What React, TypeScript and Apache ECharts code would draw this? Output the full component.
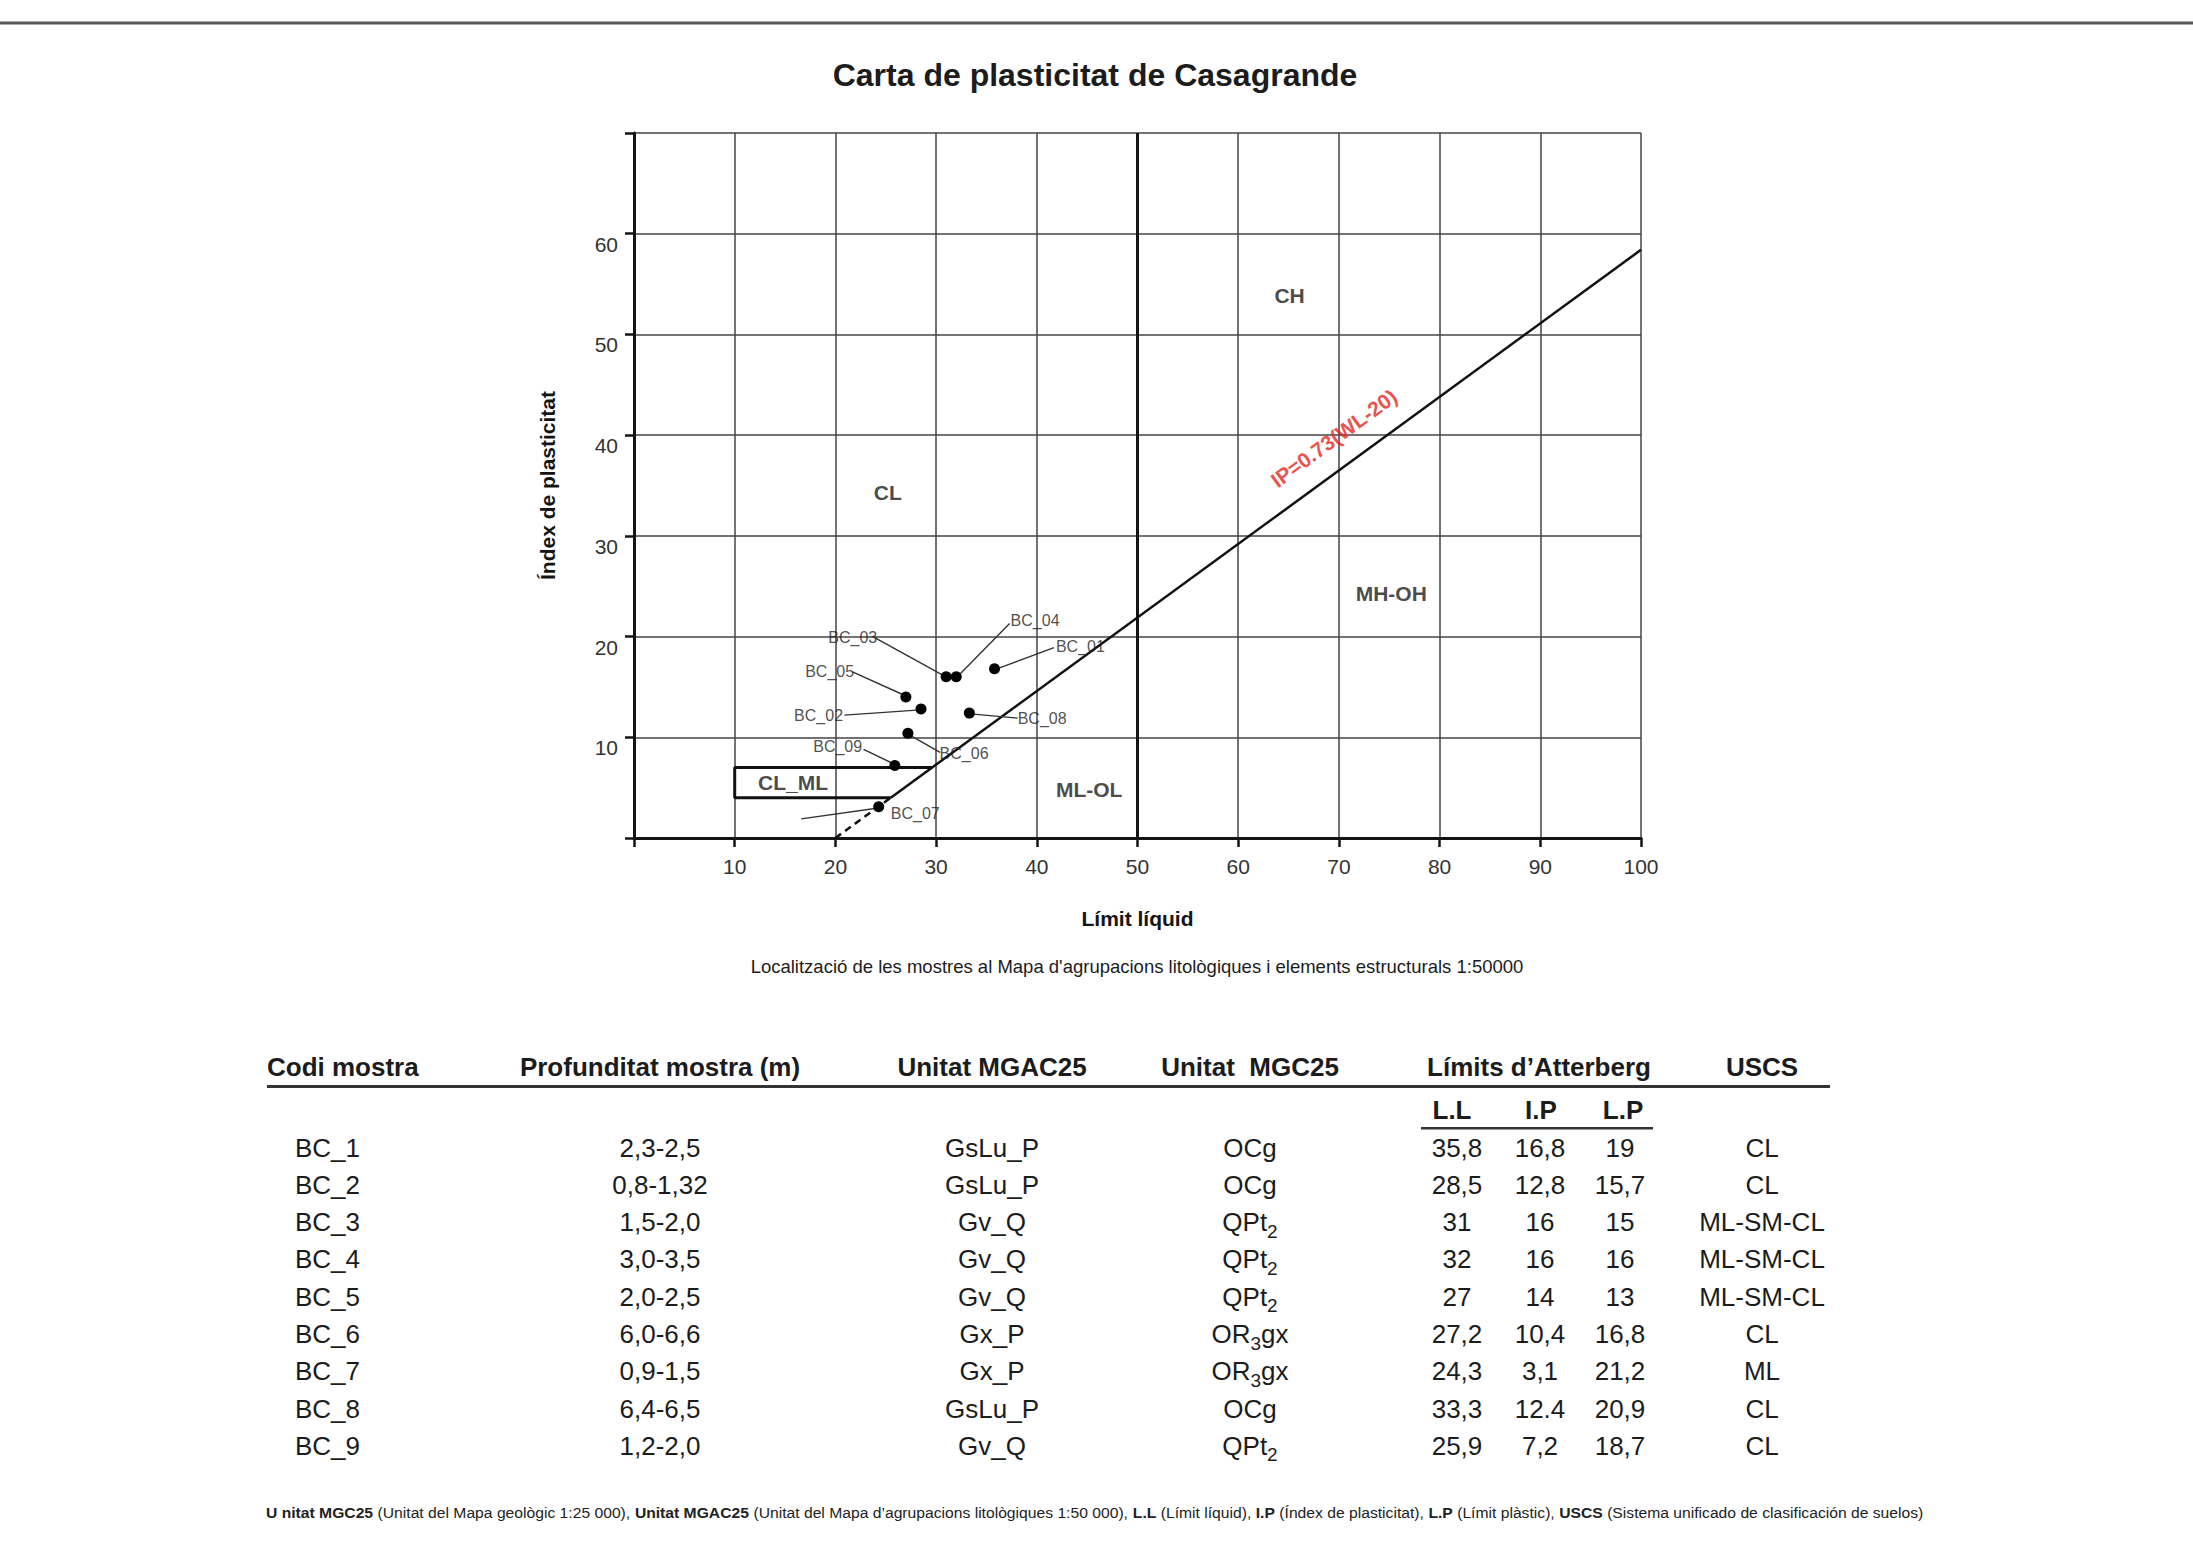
import React, { useEffect, useRef } from 'react';
import * as echarts from 'echarts';

const PAGE_W = 2193;
const PAGE_H = 1546;
const FONT = '"Liberation Sans", Arial, Helvetica, sans-serif';

// ---------- chart data ----------
const pointNames = ['BC_01', 'BC_02', 'BC_03', 'BC_04', 'BC_05', 'BC_06', 'BC_07', 'BC_08', 'BC_09'];
const liquidLimit = [35.8, 28.5, 31, 32, 27, 27.2, 24.3, 33.3, 25.9];
const plasticityIndex = [16.8, 12.8, 16, 16, 14, 10.4, 3.1, 12.4, 7.2];

// A-line IP = 0.73 (WL - 20)
const aLineDashed = [[20, 0], [25.5, 4]];
const aLineSolid = [[25.5, 4], [100, 58.4]];
const limitLine50 = [[50, 0], [50, 70]];
const clmlBox = [[25.5, 4], [10, 4], [10, 7], [29.6, 7]];

const zoneNames = ['CH', 'CL', 'MH-OH', 'ML-OL', 'CL_ML'];
const zoneAnchors = [[65.1, 53.9], [25.2, 34.3], [75.2, 24.3], [45.2, 4.8], [15.8, 5.5]];
const aLineLabel = 'IP=0.73(WL-20)';
const aLineLabelAnchor = [69.5, 39.7];

// label anchors (left edge of text) and leader lines for the samples
const labelAnchors = [[41.9, 19.0], [15.9, 12.2], [19.3, 19.9], [37.4, 21.6], [17.0, 16.5], [30.35, 8.4], [25.5, 2.4], [38.1, 11.9], [17.8, 9.1]];
const leaderLines = [
  [[36.3, 16.9], [41.7, 18.9]],
  [[20.9, 12.2], [28.1, 12.7]],
  [[23.9, 19.9], [30.8, 16.1]],
  [[32.4, 16.3], [37.3, 21.3]],
  [[21.7, 16.5], [26.9, 14.15]],
  [[27.6, 10.1], [30.4, 8.5]],
  [[16.6, 1.9], [24.1, 2.95]],
  [[33.7, 12.3], [38.1, 11.9]],
  [[22.8, 8.8], [25.7, 7.4]],
];

// ---------- table data ----------
const tableHeaders = ['Codi mostra', 'Profunditat mostra (m)', 'Unitat MGAC25', 'Unitat  MGC25', 'Límits d’Atterberg', 'USCS'];
const subHeaders = ['L.L', 'I.P', 'L.P'];
const codes = ['BC_1', 'BC_2', 'BC_3', 'BC_4', 'BC_5', 'BC_6', 'BC_7', 'BC_8', 'BC_9'];
const depths = ['2,3-2,5', '0,8-1,32', '1,5-2,0', '3,0-3,5', '2,0-2,5', '6,0-6,6', '0,9-1,5', '6,4-6,5', '1,2-2,0'];
const unitMGAC = ['GsLu_P', 'GsLu_P', 'Gv_Q', 'Gv_Q', 'Gv_Q', 'Gx_P', 'Gx_P', 'GsLu_P', 'Gv_Q'];
// each unit written as [text, isSubscript] pieces
const unitMGC: [string, boolean][][] = [
  [['OCg', false]],
  [['OCg', false]],
  [['QPt', false], ['2', true]],
  [['QPt', false], ['2', true]],
  [['QPt', false], ['2', true]],
  [['OR', false], ['3', true], ['gx', false]],
  [['OR', false], ['3', true], ['gx', false]],
  [['OCg', false]],
  [['QPt', false], ['2', true]],
];
const llText = ['35,8', '28,5', '31', '32', '27', '27,2', '24,3', '33,3', '25,9'];
const ipText = ['16,8', '12,8', '16', '16', '14', '10,4', '3,1', '12.4', '7,2'];
const lpText = ['19', '15,7', '15', '16', '13', '16,8', '21,2', '20,9', '18,7'];
const uscs = ['CL', 'CL', 'ML-SM-CL', 'ML-SM-CL', 'ML-SM-CL', 'CL', 'ML', 'CL', 'CL'];

const titleText = 'Carta de plasticitat de Casagrande';
const subtitleText = "Localització de les mostres al Mapa d'agrupacions litològiques i elements estructurals 1:50000";
const footerParts: [string, boolean][] = [
  ['U nitat MGC25', true],
  [' (Unitat del Mapa geològic 1:25 000), ', false],
  ['Unitat MGAC25', true],
  [' (Unitat del Mapa d’agrupacions litològiques 1:50 000), ', false],
  ['L.L', true],
  [' (Límit líquid), ', false],
  ['I.P', true],
  [' (Índex de plasticitat), ', false],
  ['L.P', true],
  [' (Límit plàstic), ', false],
  ['USCS', true],
  [' (Sistema unificado de clasificación de suelos)', false],
];

function measure(text: string, font: string): number {
  const c = document.createElement('canvas').getContext('2d');
  if (!c) return text.length * 8;
  c.font = font;
  return c.measureText(text).width;
}

function buildGraphics() {
  const g: any[] = [];
  const ink = '#1c1c1c';
  // top rule
  g.push({ type: 'rect', shape: { x: 0, y: 21.5, width: PAGE_W, height: 3 }, style: { fill: '#555' }, silent: true });
  // title
  g.push({ type: 'text', x: 1095, y: 75, style: { text: titleText, font: `bold 32px ${FONT}`, fill: ink, align: 'center', verticalAlign: 'middle' } });
  // subtitle
  const subFs = 17 * 773 / measure(subtitleText, `17px ${FONT}`);
  g.push({ type: 'text', x: 1137, y: 966, style: { text: subtitleText, font: `${subFs.toFixed(2)}px ${FONT}`, fill: ink, align: 'center', verticalAlign: 'middle' } });

  // table header
  const headerY = 1067;
  const headerX = [267, 660, 992, 1250, 1539, 1762];
  tableHeaders.forEach((h, i) => {
    g.push({ type: 'text', x: headerX[i], y: headerY, style: { text: h, font: `bold 26px ${FONT}`, fill: ink, align: i === 0 ? 'left' : 'center', verticalAlign: 'middle' } });
  });
  g.push({ type: 'rect', shape: { x: 267, y: 1085, width: 1563, height: 3 }, style: { fill: '#333' } });
  const subX = [1452, 1541, 1623];
  subHeaders.forEach((h, i) => {
    g.push({ type: 'text', x: subX[i], y: 1110, style: { text: h, font: `bold 26px ${FONT}`, fill: ink, align: 'center', verticalAlign: 'middle' } });
  });
  g.push({ type: 'rect', shape: { x: 1421, y: 1127, width: 232, height: 2.5 }, style: { fill: '#333' } });

  // table rows
  const rowY0 = 1147.5;
  const rowStep = 37.3;
  const mainFont = `26px ${FONT}`;
  const subFont = `19px ${FONT}`;
  codes.forEach((code, r) => {
    const y = rowY0 + r * rowStep;
    const cells: [string, number, string][] = [
      [code, 295, 'left'],
      [depths[r], 660, 'center'],
      [unitMGAC[r], 992, 'center'],
      [llText[r], 1457, 'center'],
      [ipText[r], 1540, 'center'],
      [lpText[r], 1620, 'center'],
      [uscs[r], 1762, 'center'],
    ];
    cells.forEach(([t, x, a]) => {
      g.push({ type: 'text', x, y, style: { text: t, font: mainFont, fill: ink, align: a, verticalAlign: 'middle' } });
    });
    // unit with subscripts
    const pieces = unitMGC[r];
    const widths = pieces.map(([t, s]) => measure(t, s ? subFont : mainFont));
    const total = widths.reduce((a, b) => a + b, 0);
    let x = 1250 - total / 2;
    pieces.forEach(([t, s], k) => {
      g.push({ type: 'text', x, y: s ? y + 9 : y, style: { text: t, font: s ? subFont : mainFont, fill: ink, align: 'left', verticalAlign: 'middle' } });
      x += widths[k];
    });
  });

  // footer
  const fs = 15;
  let total = 0;
  footerParts.forEach(([t, b]) => { total += measure(t, `${b ? 'bold ' : ''}${fs}px ${FONT}`); });
  const sx = 1657 / total;
  const rich = {
    b: { fontSize: fs, fontWeight: 'bold', fontFamily: FONT, fill: '#222' },
    n: { fontSize: fs, fontWeight: 'normal', fontFamily: FONT, fill: '#222' },
  };
  const ftext = footerParts.map(([t, b]) => `{${b ? 'b' : 'n'}|${t}}`).join('');
  g.push({ type: 'text', x: 266, y: 1513, scaleX: sx, style: { text: ftext, rich, align: 'left', verticalAlign: 'middle' } });
  return g;
}

export default function App() {
  const ref = useRef<HTMLDivElement>(null);
  useEffect(() => {
    document.body.style.margin = '0';
    if (!ref.current) return;
    const chart = echarts.init(ref.current, undefined, { renderer: 'svg' });
    const axisColor = '#141414';
    const gridColor = '#444';
    const option: any = {
      animation: false,
      backgroundColor: '#fff',
      textStyle: { fontFamily: FONT },
      grid: { left: 634, top: 133, width: 1007, height: 705, containLabel: false },
      xAxis: {
        type: 'value', min: 0, max: 100, interval: 10,
        name: 'Límit líquid', nameLocation: 'middle', nameGap: 70,
        nameTextStyle: { fontSize: 21, fontWeight: 'bold', color: axisColor, fontFamily: FONT },
        axisLine: { show: true, onZero: false, lineStyle: { color: axisColor, width: 3 } },
        axisTick: { show: true, length: 9, lineStyle: { color: axisColor, width: 2.5 } },
        axisLabel: { fontSize: 21, color: '#333', margin: 18, fontFamily: FONT, formatter: (v: number) => (v === 0 ? '' : String(v)) },
        splitLine: { show: true, lineStyle: { color: gridColor, width: 1.5 } },
      },
      yAxis: {
        type: 'value', min: 0, max: 70, interval: 10,
        name: 'Índex de plasticitat', nameLocation: 'middle', nameGap: 76, nameRotate: 90,
        nameTextStyle: { fontSize: 21, fontWeight: 'bold', color: axisColor, fontFamily: FONT },
        axisLine: { show: true, onZero: false, lineStyle: { color: axisColor, width: 3 } },
        axisTick: { show: true, length: 9, lineStyle: { color: axisColor, width: 2.5 } },
        axisLabel: { fontSize: 21, color: '#333', margin: 16, verticalAlign: 'top', fontFamily: FONT, formatter: (v: number) => (v === 0 || v === 70 ? '' : String(v)) },
        splitLine: { show: true, lineStyle: { color: gridColor, width: 1.5 } },
      },
      series: [
        { type: 'line', data: limitLine50, symbol: 'none', silent: true, lineStyle: { color: axisColor, width: 3 }, z: 3 },
        { type: 'line', data: aLineSolid, symbol: 'none', silent: true, lineStyle: { color: '#111', width: 2.5 }, z: 3 },
        { type: 'line', data: aLineDashed, symbol: 'none', silent: true, lineStyle: { color: '#111', width: 2.5, type: [7, 5] }, z: 3 },
        { type: 'line', data: clmlBox, symbol: 'none', silent: true, lineStyle: { color: '#111', width: 3 }, z: 3 },
        {
          type: 'lines', coordinateSystem: 'cartesian2d', silent: true, z: 4,
          lineStyle: { color: '#333', width: 1.4, opacity: 1 },
          data: leaderLines.map((c) => ({ coords: c })),
        },
        {
          type: 'scatter', silent: true, z: 5, symbolSize: 11,
          itemStyle: { color: '#000', opacity: 1 },
          data: liquidLimit.map((x, i) => [x, plasticityIndex[i]]),
        },
        {
          type: 'scatter', silent: true, z: 6, symbolSize: 0,
          data: pointNames.map((n, i) => ({ name: n, value: labelAnchors[i] })),
          label: { show: true, formatter: '{b}', position: 'inside', align: 'left', verticalAlign: 'middle', fontSize: 16, color: '#222', fontFamily: FONT },
        },
        {
          type: 'scatter', silent: true, z: 6, symbolSize: 0,
          data: zoneNames.map((n, i) => ({ name: n, value: zoneAnchors[i] })),
          label: { show: true, formatter: '{b}', position: 'inside', align: 'center', verticalAlign: 'middle', fontSize: 21, fontWeight: 'bold', color: '#1a1a1a', fontFamily: FONT },
        },
        {
          type: 'scatter', silent: true, z: 6, symbolSize: 0,
          data: [{ name: aLineLabel, value: aLineLabelAnchor }],
          label: { show: true, formatter: '{b}', position: 'inside', align: 'center', verticalAlign: 'middle', rotate: 36.13, fontSize: 21, fontWeight: 'bold', color: '#e3261c', fontFamily: FONT },
        },
      ],
      graphic: buildGraphics(),
    };
    chart.setOption(option);
    return () => chart.dispose();
  }, []);
  return <div ref={ref} style={{ width: PAGE_W, height: PAGE_H, background: '#fff' }} />;
}
